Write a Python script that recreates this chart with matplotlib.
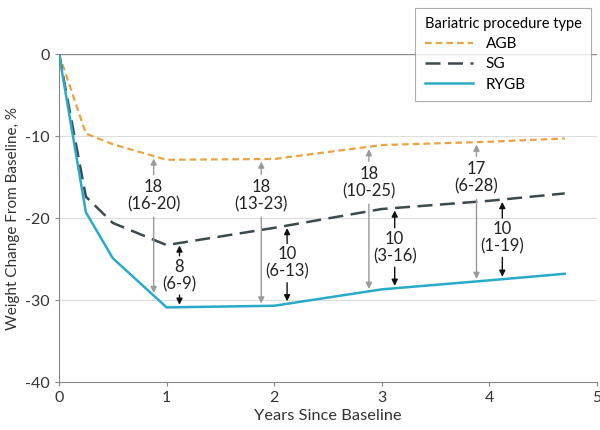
import numpy as np
import matplotlib
matplotlib.use("Agg")
import matplotlib.pyplot as plt

plt.rcParams['font.family'] = ['Lato', 'DejaVu Sans']
plt.rcParams['axes.unicode_minus'] = False

years = [0, 0.25, 0.5, 1, 2, 3, 4, 4.7]
agb = [0, -9.7, -11.0, -12.9, -12.8, -11.1, -10.7, -10.3]
sg = [0, -17.4, -20.6, -23.3, -21.2, -18.9, -17.9, -17.0]
rygb = [0, -19.3, -24.9, -30.9, -30.7, -28.7, -27.6, -26.8]

# AGB vs RYGB differences (gray) and SG vs RYGB differences (black)
gray_x = [0.88, 1.88, 2.88, 3.88]
gray_labels = ["18\n(16-20)", "18\n(13-23)", "18\n(10-25)", "17\n(6-28)"]
gray_text_y = [-17.3, -17.3, -15.7, -15.1]
black_x = [1.12, 2.12, 3.12, 4.12]
black_labels = ["8\n(6-9)", "10\n(6-13)", "10\n(3-16)", "10\n(1-19)"]
black_text_y = [-27.0, -25.5, -23.6, -22.4]

c_agb = '#E9A441'
c_sg = '#3B4A4E'
c_rygb = '#2AAAC9'

fig = plt.figure(figsize=(6, 4.3), dpi=100)
ax = fig.add_axes([0.0983, 0.1116, 0.8967, 0.7628])

ax.axhline(0, color='#8c8c8c', lw=1.0, zorder=1)
for yv in [-10, -20, -30]:
    ax.axhline(yv, color='#dddddd', lw=0.8, zorder=1)

ax.plot(years, agb, color=c_agb, lw=1.6, dashes=(3, 1.8), label='AGB', zorder=3)
ax.plot(years, sg, color=c_sg, lw=1.8, dashes=(6, 3), label='SG', zorder=3)
ax.plot(years, rygb, color=c_rygb, lw=1.8, label='RYGB', zorder=3)


def diff_arrow(x, ty, label, top, bottom, color, half):
    ax.text(x, ty, label, ha='center', va='center', fontsize=12,
            color='#222222', linespacing=1.1, zorder=4)
    yt = np.interp(x, years, top)
    yb = np.interp(x, years, bottom)
    ap = dict(arrowstyle='-|>', color=color, lw=1.0, mutation_scale=9,
              shrinkA=0, shrinkB=0)
    ax.annotate('', xy=(x, yt - 0.3), xytext=(x, ty + half), arrowprops=ap, zorder=4)
    ax.annotate('', xy=(x, yb + 0.3), xytext=(x, ty - half), arrowprops=ap, zorder=4)


for x, lab, ty in zip(gray_x, gray_labels, gray_text_y):
    diff_arrow(x, ty, lab, agb, rygb, '#9a9a9a', 2.6)
for x, lab, ty in zip(black_x, black_labels, black_text_y):
    diff_arrow(x, ty, lab, sg, rygb, '#111111', 2.4)

ax.set_xlim(0, 5)
ax.set_ylim(-40, 0)
ax.set_xticks(range(6))
ax.set_yticks([0, -10, -20, -30, -40])
ax.tick_params(labelsize=11.5, colors='#333333', length=3, color='#888888')
for s in ['top', 'right']:
    ax.spines[s].set_visible(False)
for s in ['left', 'bottom']:
    ax.spines[s].set_color('#888888')
ax.set_xlabel('Years Since Baseline', fontsize=11.8, color='#333333', labelpad=3)
ax.set_ylabel('Weight Change From Baseline, %', fontsize=11, color='#333333', labelpad=4)

leg = fig.legend(loc='upper right', bbox_to_anchor=(0.997, 0.999),
                 title='Bariatric procedure type', fontsize=11, title_fontsize=10.5,
                 frameon=True, fancybox=False, edgecolor='#999999',
                 handlelength=3.2, borderpad=0.6, labelspacing=0.4)
leg._legend_box.align = 'left'
leg.get_frame().set_linewidth(0.8)

fig.savefig('out.png', dpi=100)
